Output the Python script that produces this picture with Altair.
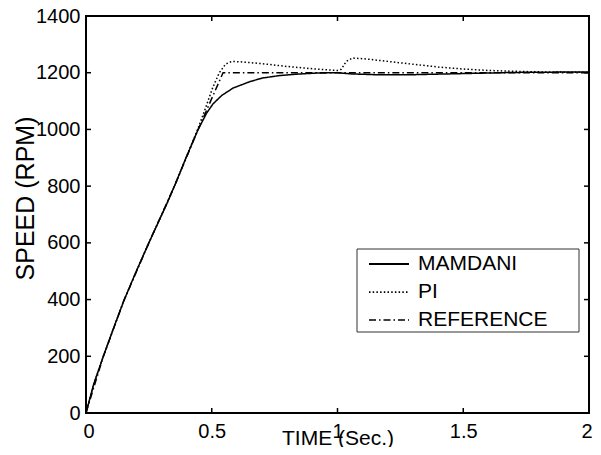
import altair as alt
import pandas as pd

# ---- data ----
t_mamdani = [0, 0.03, 0.069, 0.11, 0.15, 0.20, 0.25, 0.285, 0.32, 0.354, 0.40, 0.446, 0.48,
             0.505, 0.54, 0.585, 0.65, 0.70, 0.77, 0.84, 0.92, 1.0, 1.05, 1.15, 1.3,
             1.4, 1.55, 1.7, 2.0]
y_mamdani = [0, 100, 200, 300, 395, 500, 600, 668, 735, 805, 905, 1000, 1058,
             1090, 1120, 1146, 1168, 1181, 1190, 1195, 1199, 1200, 1196, 1193, 1193,
             1195, 1198, 1201, 1203]

t_pi = [0, 0.03, 0.069, 0.11, 0.15, 0.20, 0.25, 0.285, 0.32, 0.354, 0.40, 0.446, 0.475,
        0.505, 0.53, 0.555, 0.58, 0.62, 0.70, 0.80, 0.90, 1.0, 1.015, 1.035, 1.06,
        1.12, 1.2, 1.3, 1.4, 1.5, 1.6, 1.7, 1.8, 2.0]
y_pi = [0, 100, 200, 300, 395, 500, 600, 668, 735, 805, 905, 1005, 1075,
        1150, 1200, 1230, 1240, 1238, 1232, 1222, 1214, 1208, 1212, 1240, 1252,
        1248, 1240, 1230, 1220, 1213, 1208, 1205, 1203, 1201]

t_ref = [0, 0.069, 0.15, 0.25, 0.354, 0.446, 0.545, 2.0]
y_ref = [0, 200, 395, 600, 805, 1000, 1200, 1200]

series = ["MAMDANI", "PI", "REFERENCE"]
x_ticks = [0, 0.5, 1, 1.5, 2]
y_ticks = [0, 200, 400, 600, 800, 1000, 1200, 1400]

W, H = 503, 397
FONT = "Liberation Sans"

rows = []
for name, ts, ys in [("MAMDANI", t_mamdani, y_mamdani), ("PI", t_pi, y_pi),
                     ("REFERENCE", t_ref, y_ref)]:
    for i, (t, y) in enumerate(zip(ts, ys)):
        rows.append({"t": t, "speed": y, "series": name, "order": i})
df = pd.DataFrame(rows)

xscale = alt.Scale(domain=[0, 2], nice=False, zero=False)
yscale = alt.Scale(domain=[0, 1400], nice=False)

xaxis = alt.Axis(values=x_ticks, format="~g", title="TIME (Sec.)", tickSize=0, labelPadding=8,
                 labelFontSize=20, titleFontSize=21, titleFontWeight="normal",
                 titleX=W / 2, titleY=31, titleBaseline="alphabetic",
                 titleAnchor="middle", labelFlush=True, labelFlushOffset=3,
                 domain=False, grid=False)
yaxis = alt.Axis(values=y_ticks, format="d", title="SPEED (RPM)", tickSize=0, labelPadding=6,
                 labelFontSize=20, titleFontSize=25, titleFontWeight="normal",
                 titleX=-61, titleY=182, titleBaseline="middle", titleAngle=270,
                 titleAnchor="middle", domain=False, grid=False)

lines = alt.Chart(df).mark_line(color="black", strokeWidth=1.5, strokeCap="butt").encode(
    x=alt.X("t:Q", scale=xscale, axis=xaxis),
    y=alt.Y("speed:Q", scale=yscale, axis=yaxis),
    strokeDash=alt.StrokeDash(
        "series:N",
        scale=alt.Scale(domain=series, range=[[1, 0], [1.5, 2.2], [7, 3, 1.5, 3]]),
        legend=alt.Legend(title=None, orient="none", legendX=282, legendY=238,
                          symbolType="stroke", symbolSize=1600, symbolStrokeWidth=1.5,
                          symbolStrokeColor="black", labelFontSize=21, labelOffset=8,
                          clipHeight=20, rowPadding=7, padding=0, labelFont=FONT,
                          labelColor="black")),
    strokeWidth=alt.StrokeWidth("series:N",
                                scale=alt.Scale(domain=series, range=[2, 1.5, 1.5]),
                                legend=None),
    detail="series:N",
    order="order:Q",
)

xt = pd.DataFrame({"t": x_ticks})
yt = pd.DataFrame({"speed": y_ticks})

bottom_ticks = alt.Chart(xt).mark_rule(color="black", strokeWidth=1.5).encode(
    x=alt.X("t:Q", scale=xscale, axis=xaxis), y=alt.value(H), y2=alt.value(H - 5))
top_ticks = alt.Chart(xt).mark_rule(color="black", strokeWidth=1.5).encode(
    x=alt.X("t:Q", scale=xscale, axis=xaxis), y=alt.value(0), y2=alt.value(5))
left_ticks = alt.Chart(yt).mark_rule(color="black", strokeWidth=1.5).encode(
    y=alt.Y("speed:Q", scale=yscale, axis=yaxis), x=alt.value(0), x2=alt.value(5))
right_ticks = alt.Chart(yt).mark_rule(color="black", strokeWidth=1.5).encode(
    y=alt.Y("speed:Q", scale=yscale, axis=yaxis), x=alt.value(W), x2=alt.value(W - 5))

legend_box = alt.Chart(pd.DataFrame({"a": [0]})).mark_rect(
    fill="white", stroke="#333333", strokeWidth=1).encode(
    x=alt.value(271), x2=alt.value(493), y=alt.value(233), y2=alt.value(316))

chart = alt.layer(lines, bottom_ticks, top_ticks, left_ticks, right_ticks, legend_box).properties(
    width=W, height=H,
    autosize=alt.AutoSizeParams(type="none"),
    padding={"left": 78, "top": 8, "right": 4, "bottom": 34},
    background="white",
).configure_view(stroke="black", strokeWidth=2).configure_axis(
    labelFont=FONT, titleFont=FONT, labelColor="black", titleColor="black"
)

chart.save("out.html", embed_options={"renderer": "svg", "actions": False})
